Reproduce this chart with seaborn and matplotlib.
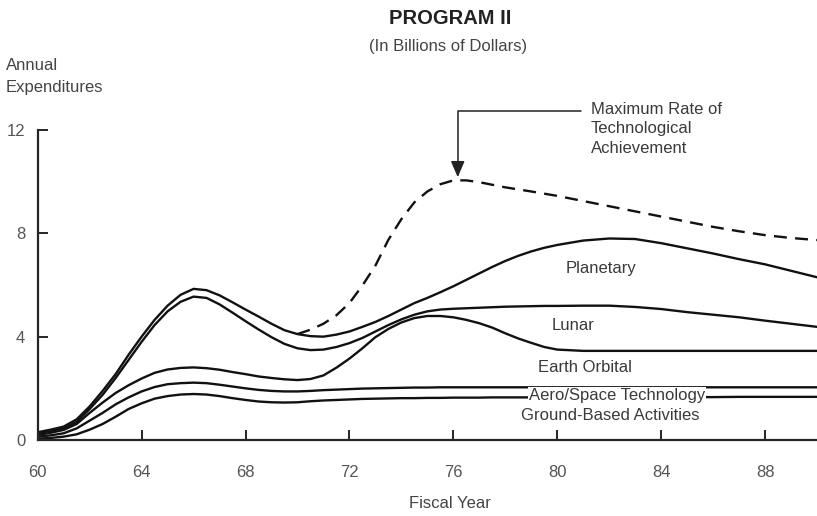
import matplotlib
matplotlib.use("Agg")
import matplotlib.pyplot as plt
import seaborn as sns

# fiscal years (half-year steps where the curves bend, whole years after 80)
years = [60, 60.5, 61, 61.5, 62, 62.5, 63, 63.5, 64, 64.5,
         65, 65.5, 66, 66.5, 67, 67.5, 68, 68.5, 69, 69.5,
         70, 70.5, 71, 71.5, 72, 72.5, 73, 73.5, 74, 74.5,
         75, 75.5, 76, 76.5, 77, 77.5, 78, 78.5, 79, 79.5,
         80, 81, 82, 83, 84, 85, 86, 87, 88, 89, 90]

# cumulative totals (top edge of each band), billions of dollars
planetary = [0.30, 0.40, 0.52, 0.80, 1.30, 1.90, 2.55, 3.30, 4.00, 4.65,
             5.20, 5.62, 5.85, 5.80, 5.60, 5.33, 5.05, 4.78, 4.50, 4.25,
             4.10, 4.02, 4.00, 4.08, 4.20, 4.38, 4.57, 4.80, 5.05, 5.30,
             5.50, 5.72, 5.95, 6.20, 6.45, 6.70, 6.93, 7.13, 7.30, 7.44,
             7.55, 7.72, 7.80, 7.78, 7.62, 7.42, 7.22, 7.00, 6.80, 6.55, 6.30]
lunar = [0.27, 0.35, 0.45, 0.70, 1.20, 1.75, 2.40, 3.10, 3.80, 4.45,
         4.98, 5.35, 5.55, 5.50, 5.25, 4.93, 4.60, 4.28, 3.98, 3.72,
         3.55, 3.48, 3.50, 3.60, 3.75, 3.95, 4.20, 4.45, 4.67, 4.85,
         4.98, 5.05, 5.08, 5.10, 5.12, 5.14, 5.16, 5.17, 5.18, 5.19,
         5.19, 5.20, 5.20, 5.15, 5.07, 4.95, 4.85, 4.75, 4.62, 4.50, 4.38]
earth_orbital = [0.20, 0.28, 0.39, 0.62, 1.05, 1.45, 1.82, 2.12, 2.38, 2.60,
                 2.73, 2.79, 2.81, 2.78, 2.72, 2.63, 2.55, 2.46, 2.40, 2.35,
                 2.32, 2.36, 2.50, 2.80, 3.15, 3.55, 3.98, 4.30, 4.55, 4.72,
                 4.80, 4.80, 4.75, 4.65, 4.52, 4.35, 4.13, 3.93, 3.76, 3.60,
                 3.50, 3.45, 3.45, 3.45, 3.45, 3.45, 3.45, 3.45, 3.45, 3.45, 3.45]
aero_space = [0.13, 0.18, 0.26, 0.45, 0.75, 1.05, 1.38, 1.65, 1.88, 2.05,
              2.16, 2.20, 2.22, 2.20, 2.14, 2.07, 2.00, 1.94, 1.90, 1.88,
              1.88, 1.90, 1.93, 1.95, 1.97, 1.99, 2.00, 2.01, 2.02, 2.03,
              2.03, 2.04, 2.04, 2.04, 2.04, 2.04, 2.04, 2.04, 2.04, 2.04,
              2.04, 2.04, 2.04, 2.04, 2.04, 2.04, 2.04, 2.04, 2.04, 2.04, 2.04]
ground_based = [0.05, 0.08, 0.13, 0.22, 0.40, 0.62, 0.90, 1.20, 1.42, 1.60,
                1.70, 1.76, 1.78, 1.76, 1.70, 1.62, 1.55, 1.49, 1.46, 1.45,
                1.46, 1.50, 1.53, 1.55, 1.57, 1.59, 1.60, 1.61, 1.62, 1.62,
                1.63, 1.63, 1.64, 1.64, 1.64, 1.65, 1.65, 1.65, 1.65, 1.65,
                1.65, 1.65, 1.66, 1.66, 1.66, 1.66, 1.66, 1.67, 1.67, 1.67, 1.67]

# dashed envelope: maximum rate of technological achievement
max_years = [70, 70.5, 71, 71.5, 72, 72.5, 73, 73.5, 74, 74.5,
             75, 75.5, 76, 76.5, 77, 77.5, 78, 78.5, 79,
             80, 81, 82, 83, 84, 85, 86, 87, 88, 89, 90]
max_rate = [4.10, 4.27, 4.50, 4.83, 5.30, 5.98, 6.75, 7.75, 8.55, 9.20,
            9.62, 9.90, 10.05, 10.05, 9.98, 9.88, 9.78, 9.70, 9.62,
            9.45, 9.25, 9.05, 8.85, 8.65, 8.45, 8.25, 8.08, 7.93, 7.82, 7.74]

x_ticks = [60, 64, 68, 72, 76, 80, 84, 88]
y_ticks = [0, 4, 8, 12]

sns.set_style("ticks")
plt.rcParams['font.family'] = ['Liberation Sans', 'DejaVu Sans']

fig = plt.figure(figsize=(8.17, 5.16), dpi=100)
ax = fig.add_axes([37.7 / 817, 76 / 516, 779.3 / 817, 310 / 516])

for vals in [planetary, lunar, earth_orbital, aero_space, ground_based]:
    sns.lineplot(x=years, y=vals, ax=ax, color='#111111', lw=1.7)
sns.lineplot(x=max_years, y=max_rate, ax=ax, color='#111111', lw=1.7,
             linestyle=(0, (5.5, 3.5)))

ax.set_xlim(60, 90)
ax.set_ylim(0, 12)
ax.set_xticks(x_ticks)
ax.set_yticks(y_ticks)
ax.tick_params(direction='in', length=7, width=1.2, colors='black',
               labelcolor='#555555', labelsize=12)
ax.tick_params(axis='x', pad=18)
ax.tick_params(axis='y', pad=9)
sns.despine(ax=ax)
for side in ['left', 'bottom']:
    ax.spines[side].set_linewidth(1.6)
ax.set_xlabel('')
ax.set_ylabel('')

# band labels
txt = dict(ha='center', va='center', fontsize=12, color='#3a3a3a')
ax.text(81.7, 6.65, 'Planetary', **txt)
ax.text(80.6, 4.45, 'Lunar', **txt)
ax.text(81.05, 2.82, 'Earth Orbital', **txt)
ax.text(82.3, 1.74, 'Aero/Space Technology',
        bbox=dict(facecolor='white', edgecolor='none', pad=0.5), **txt)
ax.text(82.05, 0.93, 'Ground-Based Activities', **txt)

# callout
ax.text(81.3, 13.1, 'Maximum Rate of\nTechnological\nAchievement',
        ha='left', va='top', fontsize=12, color='#3a3a3a', linespacing=1.4,
        clip_on=False)
ax.annotate('', xy=(76.17, 10.17), xytext=(80.9, 12.73),
            annotation_clip=False,
            arrowprops=dict(arrowstyle='-|>,head_length=0.7,head_width=0.3',
                            connectionstyle='angle,angleA=0,angleB=90,rad=0',
                            color='#222222', lw=1.1, shrinkA=0, shrinkB=0,
                            mutation_scale=14))

fig.text(450 / 817, 1 - 18 / 516, 'PROGRAM II', ha='center', va='center',
         fontsize=14.5, fontweight='bold', color='#222222')
fig.text(448 / 817, 1 - 46 / 516, '(In Billions of Dollars)', ha='center',
         va='center', fontsize=12, color='#444444')
fig.text(6 / 817, 1 - 58 / 516, 'Annual\nExpenditures', ha='left', va='top',
         fontsize=12, color='#444444', linespacing=1.6)
fig.text(450 / 817, 1 - 504 / 516, 'Fiscal Year', ha='center', va='center',
         fontsize=12, color='#444444')

fig.savefig('out.png', dpi=100)
